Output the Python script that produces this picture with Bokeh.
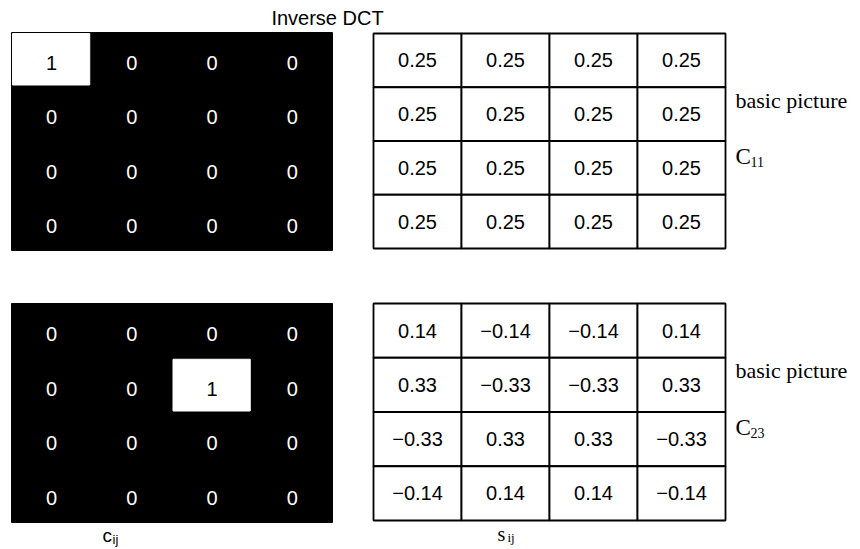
from bokeh.plotting import figure
from bokeh.models import Range1d, ColumnDataSource
from bokeh.core.properties import value
from bokeh.embed import file_html
from bokeh.resources import INLINE

# ---------------- data ----------------
title_text = "Inverse DCT"
basis_names = ["11", "23"]
side_label = "basic picture"
coef_label = ("c", "ij")
pix_label = ("s", "ij")

coeffs_c11 = [[1, 0, 0, 0],
              [0, 0, 0, 0],
              [0, 0, 0, 0],
              [0, 0, 0, 0]]
coeffs_c23 = [[0, 0, 0, 0],
              [0, 0, 1, 0],
              [0, 0, 0, 0],
              [0, 0, 0, 0]]

pixels_c11 = [[0.25, 0.25, 0.25, 0.25],
              [0.25, 0.25, 0.25, 0.25],
              [0.25, 0.25, 0.25, 0.25],
              [0.25, 0.25, 0.25, 0.25]]
pixels_c23 = [[0.14, -0.14, -0.14, 0.14],
              [0.33, -0.33, -0.33, 0.33],
              [-0.33, 0.33, 0.33, -0.33],
              [-0.14, 0.14, 0.14, -0.14]]

coeff_sets = [coeffs_c11, coeffs_c23]
pixel_sets = [pixels_c11, pixels_c23]

# ---------------- layout (picture pixel coordinates) ----------------
W, H = 860, 549
p = figure(width=W, height=H, output_backend="svg", toolbar_location=None,
           x_range=Range1d(0, W), y_range=Range1d(H, 0),
           x_axis_location=None, y_axis_location=None, min_border=0)
p.grid.visible = False
p.outline_line_color = None
p.background_fill_color = "white"
p.border_fill_color = "white"

SANS = value("Liberation Sans")
SERIF = value("Liberation Serif")

left_blocks = [(11, 332, 32, 250), (11, 332, 303, 522)]
right_grids = [(373, 725, 33, 248), (373, 725, 303, 520)]
label_mids = [(100, 156), (370, 427)]


def fmt(v):
    s = f"{abs(v):.2f}"
    return ("\u2212" + s) if v < 0 else s


for k in range(2):
    coeffs = coeff_sets[k]
    pix = pixel_sets[k]
    # ---- left black coefficient block ----
    x0, x1, y0, y1 = left_blocks[k]
    p.quad(left=[x0], right=[x1], top=[y0], bottom=[y1],
           fill_color="black", line_color="black", line_width=1)
    cw = (x1 - x0) / 4.0
    rh = (y1 - y0) / 4.0
    wl, wr, wt, wb = [], [], [], []
    tx, ty, tt, tc = [], [], [], []
    for i in range(4):
        for j in range(4):
            v = coeffs[i][j]
            cx = x0 + (j + 0.5) * cw
            cy = y0 + (i + 0.5) * rh
            if v != 0:
                wl.append(x0 + j * cw + 1)
                wr.append(x0 + (j + 1) * cw - 2)
                wt.append(y0 + i * rh + 1)
                wb.append(y0 + (i + 1) * rh - 2)
            tx.append(cx)
            ty.append(cy + 3)
            tt.append(str(v))
            tc.append("black" if v != 0 else "white")
    if wl:
        p.quad(left=wl, right=wr, top=wt, bottom=wb,
               fill_color="white", line_color="white")
    p.text(source=ColumnDataSource(dict(x=tx, y=ty, t=tt, c=tc)),
           x="x", y="y", text="t", text_color="c", text_font=SANS,
           text_font_size="20px", text_align="center",
           text_baseline="middle")

    # ---- right pixel grid ----
    x0, x1, y0, y1 = right_grids[k]
    cw = (x1 - x0) / 4.0
    rh = (y1 - y0) / 4.0
    gl, gr, gt, gb = [], [], [], []
    tx, ty, tt = [], [], []
    for i in range(4):
        for j in range(4):
            gl.append(x0 + j * cw)
            gr.append(x0 + (j + 1) * cw)
            gt.append(y0 + i * rh)
            gb.append(y0 + (i + 1) * rh)
            tx.append(x0 + (j + 0.5) * cw)
            ty.append(y0 + (i + 0.5) * rh)
            tt.append(fmt(pix[i][j]))
    p.quad(left=gl, right=gr, top=gt, bottom=gb,
           fill_color="white", line_color="black", line_width=1.8)
    p.text(x=tx, y=ty, text=tt, text_color="black", text_font=SANS,
           text_font_size="20px", text_align="center",
           text_baseline="middle")

    # ---- side labels ----
    m1, m2 = label_mids[k]
    p.text(x=[735], y=[m1], text=[side_label], text_font=SERIF,
           text_font_size="22px", text_color="black",
           text_align="left", text_baseline="middle")
    p.text(x=[735], y=[m2], text=["C"], text_font=SERIF,
           text_font_size="23px", text_color="black",
           text_align="left", text_baseline="middle")
    p.text(x=[750], y=[m2 + 5], text=[basis_names[k]], text_font=SERIF,
           text_font_size="14px", text_color="black",
           text_align="left", text_baseline="middle")

# ---- title ----
p.text(x=[327], y=[17], text=[title_text], text_font=SANS,
       text_font_size="20px", text_color="black",
       text_align="center", text_baseline="middle")

# ---- bottom labels ----
p.text(x=[102], y=[535], text=[coef_label[0]], text_font=SANS,
       text_font_size="19px", text_color="black",
       text_align="left", text_baseline="middle")
p.text(x=[112], y=[539], text=[coef_label[1]], text_font=SANS,
       text_font_size="13px", text_color="black",
       text_align="left", text_baseline="middle")
p.text(x=[497], y=[533], text=[pix_label[0]], text_font=SERIF,
       text_font_size="20px", text_color="black",
       text_align="left", text_baseline="middle")
p.text(x=[507], y=[537], text=[pix_label[1]], text_font=SERIF,
       text_font_size="13px", text_color="black",
       text_align="left", text_baseline="middle")

open("out.html", "w").write(file_html(p, INLINE))
